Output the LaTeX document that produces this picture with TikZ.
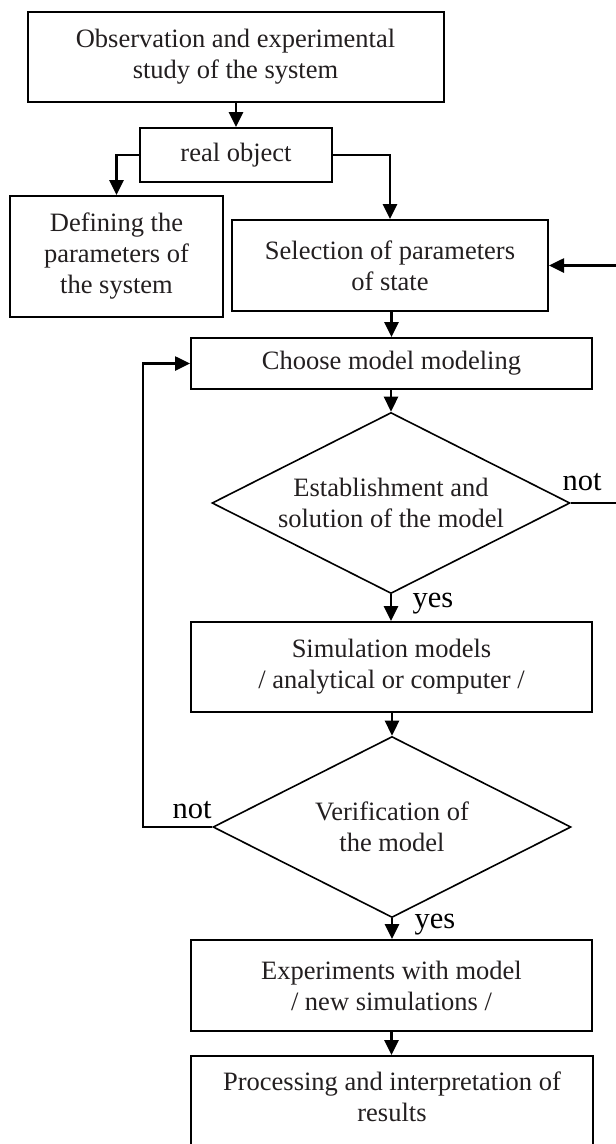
\documentclass[tikz,border=0pt]{standalone}
\usepackage{fontspec}
\setmainfont{Liberation Serif}
\usetikzlibrary{shapes.geometric,arrows.meta}
\definecolor{txtc}{RGB}{35,31,32}
\begin{document}
\begin{tikzpicture}[x=1pt,y=-1pt,
  box/.style={draw, line width=2pt, rectangle, inner sep=0pt, align=center, text=txtc, font=\fontsize{26.5}{31}\selectfont},
  dia/.style={draw, line width=1.6pt, diamond, inner sep=0pt, minimum width=358pt, minimum height=181pt},
  dtext/.style={align=center, text=txtc, font=\fontsize{26.5}{31}\selectfont, inner sep=0pt},
  lbl/.style={font=\fontsize{30.5}{34}\selectfont, inner sep=0pt},
  conn/.style={line width=2.6pt, -{Triangle[width=14pt,length=15pt]}}]
\path[use as bounding box, fill=white] (0,0) rectangle (616,1144);
\clip (0,0) rectangle (616,1144);

\node[box, minimum width=416pt, minimum height=90pt] (obs) at (235.5,57) {Observation and experimental\\study of the system};
\node[box, minimum width=192.5pt, minimum height=54pt] (real) at (236,155) {real object};
\node[box, minimum width=213pt, minimum height=121pt] (def) at (116.5,256.5) {Defining the\\parameters of\\the system};
\node[box, minimum width=316pt, minimum height=91pt] (sel) at (390,265.5) {Selection of parameters\\of state};
\node[box, minimum width=401pt, minimum height=51pt] (choose) at (391.5,363.5) {Choose model modeling};
\node[dia] (d1) at (391,503) {};
\node[dtext] at (d1.center) {Establishment and\\solution of the model};
\node[box, minimum width=401pt, minimum height=90pt] (sim) at (391.5,667) {Simulation models\\/ analytical or computer /};
\node[dia] (d2) at (392,827) {};
\node[dtext] at (d2.center) {Verification of\\the model};
\node[box, minimum width=401pt, minimum height=91pt] (exp) at (391.5,985.5) {Experiments with model\\/ new simulations /};
\node[box, minimum width=402pt, minimum height=110pt, anchor=north] (proc) at (392,1055) {};
\node[dtext] at (392,1097) {Processing and interpretation of\\results};

\node[lbl] at (582,482) {not};
\node[lbl] at (192,810) {not};
\node[lbl] at (433,604) {yes};
\node[lbl] at (435,925) {yes};

\coordinate (rt) at (618,503);
\coordinate (lt) at (143,827);

\draw[conn] (real.north |- obs.south) -- (real.north);
\draw[conn] (real.west) -| (def.north);
\draw[conn] (real.east) -| (sel.north);
\draw[conn] (choose.north |- sel.south) -- (choose.north);
\draw[conn] (d1.north |- choose.south) -- (d1.north);
\draw[conn] (d1.south) -- (d1.south |- sim.north);
\draw[conn] (d2.north |- sim.south) -- (d2.north);
\draw[conn] (d2.south) -- (d2.south |- exp.north);
\draw[conn] (exp.south) -- (exp.south |- proc.north);
\draw[conn] (d1.east) -- (rt) |- (sel.east);
\draw[conn] (d2.west) -- (lt) |- (choose.west);
\end{tikzpicture}
\end{document}
